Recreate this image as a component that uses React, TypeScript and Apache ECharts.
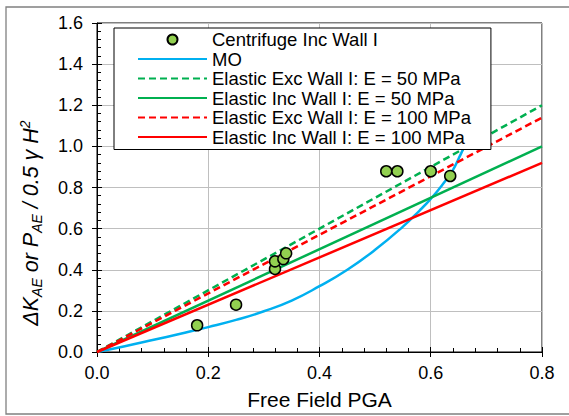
import React, { useEffect, useRef } from "react";
import * as echarts from "echarts";

// Centrifuge test results (Inc Wall I)
const centrifuge: [number, number][] = [
  [0.18, 0.13],
  [0.25, 0.23],
  [0.32, 0.404],
  [0.32, 0.441],
  [0.335, 0.452],
  [0.34, 0.48],
  [0.52, 0.879],
  [0.54, 0.879],
  [0.6, 0.879],
  [0.635, 0.856],
];

// Mononobe-Okabe curve
const moCurve: [number, number][] = [
  [0, 0],
  [0.05, 0.028],
  [0.1, 0.058],
  [0.15, 0.089],
  [0.2, 0.121],
  [0.25, 0.156],
  [0.3, 0.198],
  [0.35, 0.25],
  [0.4, 0.32],
  [0.45, 0.4],
  [0.5, 0.497],
  [0.55, 0.61],
  [0.58, 0.688],
  [0.6, 0.745],
  [0.62, 0.81],
  [0.64, 0.886],
  [0.65, 0.94],
  [0.66, 1.0],
  [0.67, 1.09],
];

// Elastic solutions: straight lines through the origin
const elasticExc50: [number, number][] = [
  [0, 0],
  [0.8, 1.2],
];
const elasticInc50: [number, number][] = [
  [0, 0],
  [0.8, 1.0],
];
const elasticExc100: [number, number][] = [
  [0, 0],
  [0.8, 1.14],
];
const elasticInc100: [number, number][] = [
  [0, 0],
  [0.8, 0.92],
];

const xTicks = { min: 0, max: 0.8, interval: 0.2 };
const yTicks = { min: 0, max: 1.6, interval: 0.2 };

const legendNames = [
  "Centrifuge Inc Wall I",
  "MO",
  "Elastic Exc Wall I: E = 50 MPa",
  "Elastic Inc Wall I: E = 50 MPa",
  "Elastic Exc Wall I: E = 100 MPa",
  "Elastic Inc Wall I: E = 100 MPa",
];

const FONT = "'Liberation Sans', Arial, sans-serif";

const oneDecimal = (v: number | string) => Number(v).toFixed(1);

export default function App() {
  const ref = useRef<HTMLDivElement>(null);

  useEffect(() => {
    if (!ref.current) return;
    const chart = echarts.init(ref.current, undefined, { renderer: "svg" });

    const baseX = {
      type: "value" as const,
      min: xTicks.min,
      max: xTicks.max,
      interval: xTicks.interval,
      position: "bottom" as const,
    };
    const baseY = {
      type: "value" as const,
      min: yTicks.min,
      max: yTicks.max,
      interval: yTicks.interval,
      position: "left" as const,
    };

    chart.setOption({
      animation: false,
      backgroundColor: "#fff",
      textStyle: { fontFamily: FONT },
      grid: {
        left: 97,
        right: 27,
        top: 23,
        bottom: 64,
        show: true,
        borderColor: "#000",
        borderWidth: 1,
        backgroundColor: "transparent",
      },
      xAxis: [
        {
          ...baseX,
          axisLine: { show: true, lineStyle: { color: "#000", width: 1 } },
          axisTick: { show: true, inside: false, length: 5, lineStyle: { color: "#000" } },
          minorTick: { show: false },
          splitLine: { show: true, lineStyle: { color: "#bfbfbf", width: 1 } },
          axisLabel: {
            color: "#000",
            fontSize: 18,
            fontFamily: FONT,
            margin: 12,
            formatter: oneDecimal,
          },
          name: "Free Field PGA",
          nameLocation: "middle",
          nameGap: 37,
          nameTextStyle: { color: "#000", fontSize: 21, fontFamily: FONT },
        },
        {
          ...baseX,
          axisLine: { show: false },
          axisTick: { show: true, inside: true, length: 5, lineStyle: { color: "#000" } },
          minorTick: { show: true, splitNumber: 5, length: 4, lineStyle: { color: "#000" } },
          splitLine: { show: false },
          axisLabel: { show: false },
        },
      ],
      yAxis: [
        {
          ...baseY,
          axisLine: { show: true, lineStyle: { color: "#000", width: 1 } },
          axisTick: { show: true, inside: false, length: 5, lineStyle: { color: "#000" } },
          minorTick: { show: false },
          splitLine: { show: true, lineStyle: { color: "#bfbfbf", width: 1 } },
          axisLabel: {
            color: "#000",
            fontSize: 18,
            fontFamily: FONT,
            margin: 14,
            formatter: oneDecimal,
          },
        },
        {
          ...baseY,
          axisLine: { show: false },
          axisTick: { show: true, inside: true, length: 5, lineStyle: { color: "#000" } },
          minorTick: { show: true, splitNumber: 5, length: 4, lineStyle: { color: "#000" } },
          splitLine: { show: false },
          axisLabel: { show: false },
        },
      ],
      legend: {
        orient: "vertical",
        left: 114,
        top: 28,
        padding: [2, 20, 3, 23],
        itemWidth: 69,
        itemHeight: 10,
        itemGap: 0.5,
        backgroundColor: "#fff",
        borderColor: "#000",
        borderWidth: 1,
        borderRadius: 0,
        textStyle: { color: "#000", fontSize: 18.5, fontFamily: FONT },
        data: legendNames.map((name, i) =>
          i === 0 ? { name } : { name, itemStyle: { opacity: 0 } }
        ),
      },
      graphic: [
        {
          type: "rect",
          silent: true,
          shape: { x: 6, y: 7, width: 620, height: 407 },
          style: { fill: "none", stroke: "#808080", lineWidth: 1.3 },
          z: 100,
        },
        {
          type: "text",
          x: 31,
          y: 223,
          rotation: Math.PI / 2,
          style: {
            text: "{m|ΔK}{s|AE}{m| or P}{s|AE}{m| / 0.5 γ H}{p|2}",
            align: "center",
            verticalAlign: "middle",
            fill: "#000",
            rich: {
              m: { fontSize: 21.5, fontStyle: "italic", fontFamily: FONT, lineHeight: 26, verticalAlign: "middle" },
              s: { fontSize: 14, fontStyle: "italic", fontFamily: FONT, lineHeight: 13, verticalAlign: "bottom" },
              p: { fontSize: 14, fontStyle: "italic", fontFamily: FONT, lineHeight: 13, verticalAlign: "top" },
            },
          },
        },
      ],
      series: [
        {
          name: "MO",
          type: "line",
          data: moCurve,
          smooth: true,
          symbol: "none",
          lineStyle: { color: "#00b0f0", width: 2.5 },
          itemStyle: { color: "#00b0f0" },
          z: 2,
        },
        {
          name: "Elastic Exc Wall I: E = 50 MPa",
          type: "line",
          data: elasticExc50,
          symbol: "none",
          lineStyle: { color: "#00b050", width: 2.5, type: [7, 4] },
          itemStyle: { color: "#00b050" },
          z: 2,
        },
        {
          name: "Elastic Inc Wall I: E = 50 MPa",
          type: "line",
          data: elasticInc50,
          symbol: "none",
          lineStyle: { color: "#00b050", width: 2.5 },
          itemStyle: { color: "#00b050" },
          z: 2,
        },
        {
          name: "Elastic Exc Wall I: E = 100 MPa",
          type: "line",
          data: elasticExc100,
          symbol: "none",
          lineStyle: { color: "#ff0000", width: 2.5, type: [7, 4] },
          itemStyle: { color: "#ff0000" },
          z: 2,
        },
        {
          name: "Elastic Inc Wall I: E = 100 MPa",
          type: "line",
          data: elasticInc100,
          symbol: "none",
          lineStyle: { color: "#ff0000", width: 2.5 },
          itemStyle: { color: "#ff0000" },
          z: 2,
        },
        {
          name: "Centrifuge Inc Wall I",
          type: "scatter",
          data: centrifuge,
          symbol: "circle",
          symbolSize: 11,
          itemStyle: { color: "#92d050", borderColor: "#000", borderWidth: 1.5, opacity: 1 },
          z: 3,
        },
      ],
    });

    return () => chart.dispose();
  }, []);

  return (
    <div
      ref={ref}
      style={{ position: "absolute", left: 0, top: 0, width: 569, height: 416 }}
    />
  );
}
